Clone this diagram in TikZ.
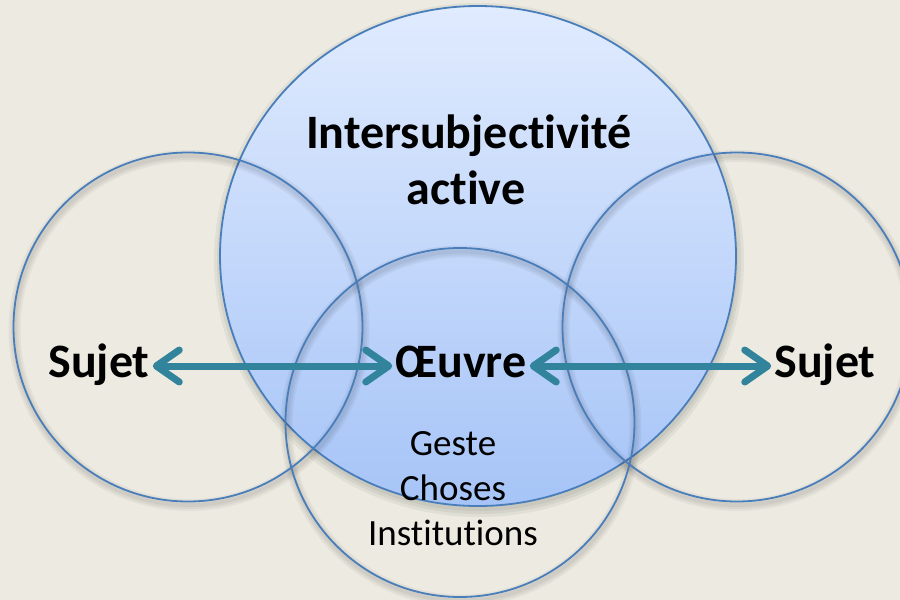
\documentclass[tikz,border=0pt]{standalone}
\usepackage{fontspec}
\setmainfont{Carlito}[Ligatures=NoCommon, RawFeature={-liga;-clig;-calt;-dlig}]
\usetikzlibrary{arrows.meta}
\definecolor{bg}{HTML}{EDEBE1}
\definecolor{ring}{HTML}{4A7EBB}
\definecolor{arrowteal}{HTML}{31849B}
\definecolor{topblue}{HTML}{E0EBFE}
\definecolor{botblue}{HTML}{A6C4F7}
\newcommand{\nolig}{\kern0pt}
\tikzset{
  ringline/.style={draw=ring, line width=1.8pt},
  ringshadow/.style={draw=black, opacity=0.045, line width=#1},
  bigtext/.style={font=\bfseries\fontsize{48}{56}\selectfont, inner sep=3pt, text height=33pt, text depth=11pt},
  headtext/.style={font=\bfseries\fontsize{48}{56}\selectfont, inner sep=0pt, anchor=base},
  smalltext/.style={font=\fontsize{37}{45}\selectfont, inner sep=0pt, anchor=base},
  twoway/.style={draw=arrowteal, line width=7pt,
    {Straight Barb[length=23pt, width=32pt, round]}-{Straight Barb[length=23pt, width=32pt, round]}}
}
\begin{document}
\begin{tikzpicture}[x=1pt,y=-1pt]
\fill[bg] (0,0) rectangle (900,600);
\useasboundingbox (0,0) rectangle (900,600);
% big circle shadow
\foreach \e in {7,4,1}{
  \fill[black, opacity=0.05] (479,260) ellipse [x radius=258pt+\e pt, y radius=250pt+\e pt];
}
\shade[top color=topblue, bottom color=botblue] (478,256) ellipse [x radius=258pt, y radius=250pt];
\draw[ringline] (478,256) ellipse [x radius=258pt, y radius=250pt];
% side circles shadows
\foreach \cx/\cy in {188/327, 737/327, 460/422.5}{
  \foreach \w in {12,8,4}{
    \draw[ringshadow=\w pt] (\cx+1,\cy+3.5) circle[radius=174.5pt];
  }
}
\draw[ringline] (188,327) circle[radius=174.5pt];
\draw[ringline] (737,327) circle[radius=174.5pt];
\draw[ringline] (460,422.5) circle[radius=174.5pt];
% texts
\node[headtext] (inter) at (469,148) {Intersubjec\nolig ti\nolig vit\nolig é};
\node[headtext] (active) at (466,204) {active};
\node[bigtext] (sujetL) at (99,366) {Sujet};
\node[bigtext] (oeuvre) at (461,366) {Œuvre};
\node[bigtext] (sujetR) at (825,366) {Sujet};
\node[smalltext] (geste) at (453,455) {Geste};
\node[smalltext] (choses) at (453,500) {Choses};
\node[smalltext] (inst) at (453,545) {Inst\nolig it\nolig ut\nolig ions};
% arrows
\draw[twoway] (sujetL) -- (oeuvre);
\draw[twoway] (oeuvre) -- (sujetR);
\end{tikzpicture}
\end{document}
